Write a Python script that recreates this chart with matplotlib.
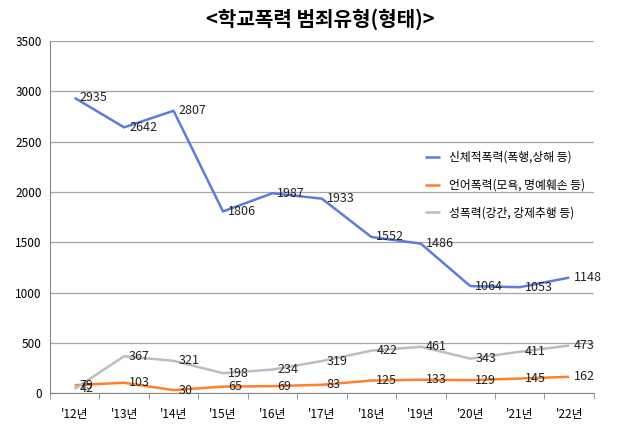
import numpy as np
import matplotlib.pyplot as plt

plt.rcParams['font.family'] = ['Noto Sans CJK KR', 'DejaVu Sans']

years = ["'12년", "'13년", "'14년", "'15년", "'16년", "'17년",
         "'18년", "'19년", "'20년", "'21년", "'22년"]
physical = [2935, 2642, 2807, 1806, 1987, 1933, 1552, 1486, 1064, 1053, 1148]
verbal = [79, 103, 30, 65, 69, 83, 125, 133, 129, 145, 162]
sexual = [42, 367, 321, 198, 234, 319, 422, 461, 343, 411, 473]

series = [
    ('신체적폭력(폭행,상해 등)', physical, '#5B7CDD'),
    ('언어폭력(모욕, 명예훼손 등)', verbal, '#FF7F2A'),
    ('성폭력(강간, 강제추행 등)', sexual, '#BDBDBD'),
]

fig = plt.figure(figsize=(6.4, 4.32), dpi=100)
ax = fig.add_axes([0.078, 0.090, 0.850, 0.815])

x = np.arange(len(years))
for name, vals, col in series:
    ax.plot(x, vals, color=col, linewidth=1.8, label=name, solid_capstyle='butt')
    for xi, v in zip(x, vals):
        ax.text(xi + 0.1, v, str(v), fontsize=9, va='center', ha='left', color='#222222')

ax.set_xlim(-0.5, len(years) - 0.5)
ax.set_ylim(0, 3500)
ax.set_yticks(np.arange(0, 3501, 500))
ax.set_xticks(x)
ax.set_xticklabels(years, fontsize=8.5)
ax.set_xticks(np.arange(-0.5, len(years), 1), minor=True)
ax.tick_params(axis='x', which='major', length=0, pad=11)
ax.tick_params(axis='x', which='minor', length=4, color='#888888')
ax.tick_params(axis='y', length=0, labelsize=8.5, pad=6)
ax.grid(axis='y', color='#A6A6A6', linewidth=0.9)
ax.set_axisbelow(True)
for s in ['top', 'right']:
    ax.spines[s].set_visible(False)
ax.spines['left'].set_color('#888888')
ax.spines['bottom'].set_color('#888888')

fig.suptitle('<학교폭력 범죄유형(형태)>', fontsize=14.5, fontweight='bold', y=0.98)

ax.legend(loc='upper left', bbox_to_anchor=(0.648, 0.675), bbox_transform=fig.transFigure,
          frameon=False, fontsize=8.5, handlelength=1.2, labelspacing=1.25)

fig.savefig('out.png', dpi=100)
